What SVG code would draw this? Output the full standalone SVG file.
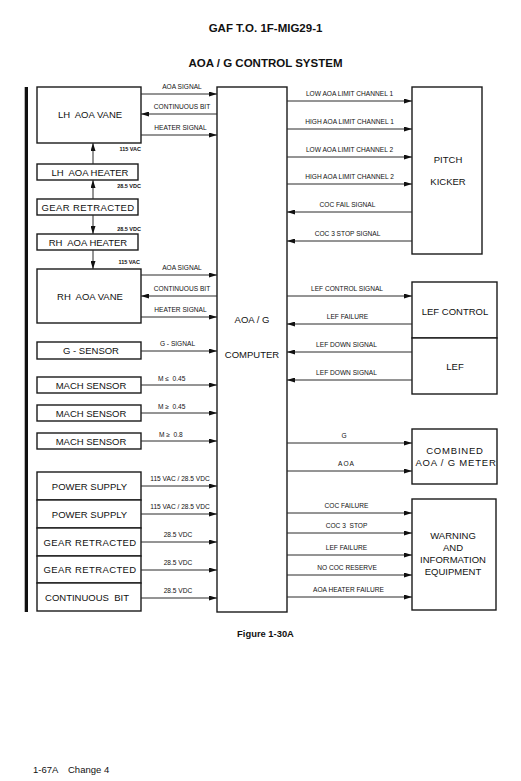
<svg xmlns="http://www.w3.org/2000/svg" width="521" height="781" viewBox="0 0 521 781">
<style>
text{font-family:"Liberation Sans",Arial,sans-serif;fill:#111;white-space:pre}
.box{fill:#fff;stroke:#1a1a1a;stroke-width:1.4}
.bl{font-size:9.5px;text-anchor:middle}
.sp{letter-spacing:0.8px}
.sig{font-size:6.6px;text-anchor:middle}
.tiny{font-size:5.5px;font-weight:bold;text-anchor:end}
.ttl{font-size:11.5px;font-weight:bold;text-anchor:middle}
.c line{stroke:#2a2a2a;stroke-width:1}
.r{marker-end:url(#ah)}
</style>
<defs>
<marker id="ah" markerUnits="userSpaceOnUse" markerWidth="8" markerHeight="5" refX="8" refY="2.5" orient="auto">
<path d="M0,0 L8,2.5 L0,5 z" fill="#111"/>
</marker>
</defs>
<rect width="521" height="781" fill="#fff"/>
<text class="ttl" x="265.5" y="32">GAF T.O. 1F-MIG29-1</text>
<text class="ttl" x="265.5" y="67">AOA / G CONTROL SYSTEM</text>
<rect id="leftbar" x="24.7" y="87" width="3.3" height="525" fill="#111"/>

<g id="lh-aoa-vane"><rect class="box" x="37" y="87" width="104" height="56"/><text class="bl" x="90" y="118.3" xml:space="preserve">LH  AOA VANE</text></g>
<g id="lh-aoa-heater"><rect class="box" x="37" y="164" width="101" height="16"/><text class="bl" x="90" y="175.5" xml:space="preserve">LH  AOA HEATER</text></g>
<g id="gear-retracted-1"><rect class="box" x="37" y="199" width="101" height="16"/><text class="bl" x="88" y="210.5" style="letter-spacing:0.4px">GEAR RETRACTED</text></g>
<g id="rh-aoa-heater"><rect class="box" x="37" y="234" width="101" height="16"/><text class="bl" x="88" y="245.5" xml:space="preserve">RH  AOA HEATER</text></g>
<g id="rh-aoa-vane"><rect class="box" x="37" y="269" width="104" height="54"/><text class="bl" x="90" y="299.5" xml:space="preserve">RH  AOA VANE</text></g>
<g id="g-sensor"><rect class="box" x="37" y="342" width="104" height="17"/><text class="bl" x="91" y="354">G - SENSOR</text></g>
<g id="mach-sensor-1"><rect class="box" x="37" y="377" width="104" height="16"/><text class="bl" x="91" y="388.5">MACH SENSOR</text></g>
<g id="mach-sensor-2"><rect class="box" x="37" y="405" width="104" height="16"/><text class="bl" x="91" y="416.5">MACH SENSOR</text></g>
<g id="mach-sensor-3"><rect class="box" x="37" y="433" width="104" height="16"/><text class="bl" x="91" y="444.5">MACH SENSOR</text></g>
<g id="power-supply-1"><rect class="box" x="37" y="472" width="104" height="28"/><text class="bl" x="89.5" y="489.5">POWER SUPPLY</text></g>
<g id="power-supply-2"><rect class="box" x="37" y="500" width="104" height="28"/><text class="bl" x="89.5" y="517.5">POWER SUPPLY</text></g>
<g id="gear-retracted-2"><rect class="box" x="37" y="528" width="104" height="28"/><text class="bl" x="90" y="545.5" style="letter-spacing:0.4px">GEAR RETRACTED</text></g>
<g id="gear-retracted-3"><rect class="box" x="37" y="556" width="104" height="27"/><text class="bl" x="90" y="573" style="letter-spacing:0.4px">GEAR RETRACTED</text></g>
<g id="continuous-bit"><rect class="box" x="37" y="583" width="104" height="28"/><text class="bl" x="87" y="600.5" xml:space="preserve">CONTINUOUS  BIT</text></g>

<g id="computer"><rect class="box" x="217" y="87" width="70" height="525"/><text class="bl" x="252" y="323">AOA / G</text><text class="bl" x="252" y="358">COMPUTER</text></g>
<g id="pitch-kicker"><rect class="box" x="412" y="87" width="70" height="167"/><text class="bl" x="448" y="163">PITCH</text><text class="bl" x="448" y="185">KICKER</text></g>
<g id="lef-control"><rect class="box" x="412" y="282" width="85" height="56"/><text class="bl" x="455" y="315">LEF CONTROL</text></g>
<g id="lef"><rect class="box" x="412" y="338" width="85" height="56"/><text class="bl" x="455" y="369.5">LEF</text></g>
<g id="combined-meter"><rect class="box" x="412" y="429" width="85" height="55"/><text class="bl sp" x="455" y="454">COMBINED</text><text class="bl sp" x="456" y="465.5">AOA / G METER</text></g>
<g id="warning-equipment"><rect class="box" x="412" y="499" width="84" height="111"/><text class="bl" x="453" y="539">WARNING</text><text class="bl" x="453" y="551">AND</text><text class="bl" x="453" y="563">INFORMATION</text><text class="bl" x="453" y="574.5">EQUIPMENT</text></g>

<g id="connectors" class="c">
<line class="r" x1="93" y1="164" x2="93" y2="143"/>
<line class="r" x1="93" y1="199" x2="93" y2="180"/>
<line class="r" x1="93" y1="215" x2="93" y2="234"/>
<line class="r" x1="93" y1="250" x2="93" y2="269"/>
<line class="r" x1="141" y1="94" x2="217" y2="94"/>
<line class="r" x1="217" y1="114" x2="141" y2="114"/>
<line class="r" x1="141" y1="135" x2="217" y2="135"/>
<line class="r" x1="141" y1="275" x2="217" y2="275"/>
<line class="r" x1="217" y1="296" x2="141" y2="296"/>
<line class="r" x1="141" y1="317" x2="217" y2="317"/>
<line class="r" x1="141" y1="351" x2="217" y2="351"/>
<line class="r" x1="141" y1="385" x2="217" y2="385"/>
<line class="r" x1="141" y1="413" x2="217" y2="413"/>
<line class="r" x1="141" y1="441" x2="217" y2="441"/>
<line class="r" x1="141" y1="486" x2="217" y2="486"/>
<line class="r" x1="141" y1="514" x2="217" y2="514"/>
<line class="r" x1="141" y1="542" x2="217" y2="542"/>
<line class="r" x1="141" y1="570" x2="217" y2="570"/>
<line class="r" x1="141" y1="598" x2="217" y2="598"/>
<line class="r" x1="287" y1="101" x2="412" y2="101"/>
<line class="r" x1="287" y1="129" x2="412" y2="129"/>
<line class="r" x1="287" y1="157" x2="412" y2="157"/>
<line class="r" x1="287" y1="184" x2="412" y2="184"/>
<line class="r" x1="412" y1="212" x2="287" y2="212"/>
<line class="r" x1="412" y1="241" x2="287" y2="241"/>
<line class="r" x1="287" y1="296" x2="412" y2="296"/>
<line class="r" x1="412" y1="324" x2="287" y2="324"/>
<line class="r" x1="412" y1="352" x2="287" y2="352"/>
<line class="r" x1="412" y1="380" x2="287" y2="380"/>
<line class="r" x1="287" y1="443" x2="412" y2="443"/>
<line class="r" x1="287" y1="471" x2="412" y2="471"/>
<line class="r" x1="287" y1="513" x2="412" y2="513"/>
<line class="r" x1="287" y1="533" x2="412" y2="533"/>
<line class="r" x1="287" y1="555" x2="412" y2="555"/>
<line class="r" x1="287" y1="575" x2="412" y2="575"/>
<line class="r" x1="287" y1="597" x2="412" y2="597"/>
</g>

<g id="labels">
<text class="tiny" x="141" y="151">115 VAC</text>
<text class="tiny" x="141" y="188">28.5 VDC</text>
<text class="tiny" x="141" y="231">28.5 VDC</text>
<text class="tiny" x="140" y="264">115 VAC</text>
<text class="sig" x="182" y="89">AOA SIGNAL</text>
<text class="sig" x="182" y="108.5">CONTINUOUS BIT</text>
<text class="sig" x="180.5" y="130">HEATER SIGNAL</text>
<text class="sig" x="182" y="270">AOA SIGNAL</text>
<text class="sig" x="182" y="291">CONTINUOUS BIT</text>
<text class="sig" x="180.5" y="312">HEATER SIGNAL</text>
<text class="sig" x="177.5" y="346">G - SIGNAL</text>
<text class="sig" x="158" y="380.5" style="text-anchor:start" xml:space="preserve">M ≤  0.45</text>
<text class="sig" x="158" y="408.5" style="text-anchor:start" xml:space="preserve">M ≥  0.45</text>
<text class="sig" x="159" y="436.5" style="text-anchor:start" xml:space="preserve">M ≥  0.8</text>
<text class="sig" x="180" y="481">115 VAC / 28.5 VDC</text>
<text class="sig" x="180" y="509">115 VAC / 28.5 VDC</text>
<text class="sig" x="178" y="537">28.5 VDC</text>
<text class="sig" x="178" y="565">28.5 VDC</text>
<text class="sig" x="178" y="593">28.5 VDC</text>
<text class="sig" x="349.5" y="96">LOW AOA LIMIT CHANNEL 1</text>
<text class="sig" x="349.5" y="124">HIGH AOA LIMIT CHANNEL 1</text>
<text class="sig" x="349.5" y="152">LOW AOA LIMIT CHANNEL 2</text>
<text class="sig" x="349.5" y="179">HIGH AOA LIMIT CHANNEL 2</text>
<text class="sig" x="347.5" y="207">COC FAIL SIGNAL</text>
<text class="sig" x="347.5" y="236">COC 3 STOP SIGNAL</text>
<text class="sig" x="347" y="291">LEF CONTROL SIGNAL</text>
<text class="sig" x="347.5" y="319">LEF FAILURE</text>
<text class="sig" x="346.5" y="347">LEF DOWN SIGNAL</text>
<text class="sig" x="346.5" y="375">LEF DOWN SIGNAL</text>
<text class="sig" x="344" y="438">G</text>
<text class="sig" x="346.5" y="466" style="letter-spacing:1px">AOA</text>
<text class="sig" x="346.5" y="508">COC FAILURE</text>
<text class="sig" x="346.5" y="528" xml:space="preserve">COC 3  STOP</text>
<text class="sig" x="346.5" y="550">LEF FAILURE</text>
<text class="sig" x="347" y="570">NO COC RESERVE</text>
<text class="sig" x="348.5" y="592">AOA HEATER FAILURE</text>
</g>
<text x="265.5" y="637" style="font-size:9.4px;font-weight:bold;text-anchor:middle">Figure 1-30A</text>
<text x="33" y="773" style="font-size:9.5px">1-67A</text>
<text x="68" y="773" style="font-size:9.5px">Change 4</text>
</svg>
